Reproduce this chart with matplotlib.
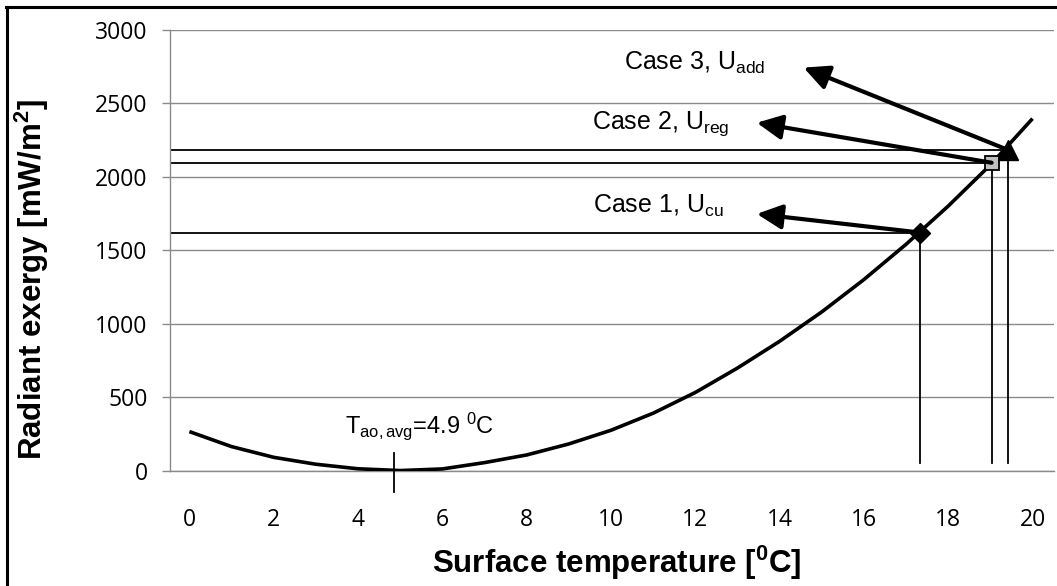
import matplotlib
matplotlib.use('Agg')
import matplotlib.pyplot as plt
from matplotlib.lines import Line2D

plt.rcParams['mathtext.fontset'] = 'custom'
plt.rcParams['mathtext.rm'] = 'Liberation Sans'
plt.rcParams['mathtext.it'] = 'Liberation Sans'
plt.rcParams['mathtext.bf'] = 'Liberation Sans:bold'
plt.rcParams['font.family'] = ['Liberation Sans', 'DejaVu Sans']

# ---- data ----
temperature = list(range(21))
exergy = [266, 164, 91, 44, 13, 1, 12, 55, 107, 182, 275, 391, 532, 698,
          880, 1080, 1300, 1540, 1800, 2080, 2395]
x_ticks = list(range(0, 21, 2))
y_ticks = [0, 500, 1000, 1500, 2000, 2500, 3000]

case_labels = [r'Case 1, U$_\mathrm{cu}$', r'Case 2, U$_\mathrm{reg}$', r'Case 3, U$_\mathrm{add}$']
case_temp = [17.33, 19.03, 19.42]
case_exergy = [1620, 2095, 2182]
case_text_pos = [(9.57, 1754), (9.55, 2326), (10.30, 2725)]
case_arrow_tip = [(13.46, 1747), (13.46, 2367), (14.57, 2742)]
t_avg = 4.85
t_avg_label = r'T$_\mathrm{ao,avg}$=4.9 $^\mathrm{0}$C'

W, H = 1057, 586
fig = plt.figure(figsize=(W / 100, H / 100), dpi=100)
ax = fig.add_axes([170 / W, 1 - 470.7 / H, (1054 - 170) / W, (470.7 - 29.7) / H])

grid_c = '#8a8a8a'
ax.set_xlim(-0.46, 20.51)
ax.set_ylim(0, 3000)
ax.set_yticks(y_ticks)
ax.set_xticks(x_ticks)
ax.grid(axis='y', color=grid_c, lw=1.0)
ax.set_axisbelow(True)
for s in ['top', 'right']:
    ax.spines[s].set_visible(False)
ax.spines['left'].set_color(grid_c)
ax.spines['bottom'].set_color(grid_c)
ax.spines['left'].set_linewidth(1.0)
ax.spines['bottom'].set_linewidth(1.0)
ax.tick_params(axis='y', length=6, color=grid_c, width=1.0, pad=10)
ax.tick_params(axis='x', length=0, pad=27)
for lab in ax.get_xticklabels() + ax.get_yticklabels():
    lab.set_fontfamily('Open Sans')
    lab.set_fontsize(16.5)

# main curve
ax.plot(temperature, exergy, color='black', lw=2.6, solid_capstyle='butt', zorder=3)

# drop lines for cases
x0 = ax.get_xlim()[0]
for t, v in zip(case_temp, case_exergy):
    ax.plot([x0, t], [v, v], color='black', lw=1.3, zorder=2)
    ax.plot([t, t], [50, v], color='black', lw=1.3, zorder=2)

# markers
ax.plot(case_temp[0], case_exergy[0], marker='D', ms=10, color='black', zorder=5)
ax.plot(case_temp[1], case_exergy[1], marker='s', ms=10, mfc='#c0c0c0', mec='black', mew=1.3, zorder=5)
ax.plot(case_temp[2], case_exergy[2], marker='^', ms=14, color='black', zorder=5)

# arrows and texts
for lab, (tx, ty), (hx, hy), t, v in zip(case_labels, case_text_pos, case_arrow_tip, case_temp, case_exergy):
    ax.text(tx, ty, lab, fontsize=18, ha='left', va='baseline')
    ax.annotate('', xy=(hx, hy), xytext=(t, v),
                arrowprops=dict(arrowstyle='-|>,head_length=0.45,head_width=0.22', lw=3.0, color='black',
                                mutation_scale=34, shrinkA=0, shrinkB=0),
                zorder=6)

# average temperature marker
ax.plot([t_avg, t_avg], [-145, 121], color='black', lw=1.3, clip_on=False, zorder=4)
ax.text(3.68, 254, t_avg_label, fontsize=17, ha='left', va='baseline')

# axis labels
fig.text(32 / W, 1 - 280 / H, r'Radiant exergy [mW/m$^\mathbf{2}$]', rotation=90,
         fontsize=22.5, fontweight='bold', ha='center', va='center')
fig.text(617 / W, 1 - 563 / H, r'Surface temperature [$^\mathbf{0}$C]',
         fontsize=22.5, fontweight='bold', ha='center', va='center')

# figure border (left and top)
fig.add_artist(Line2D([7 / W, 7 / W], [0, 1 - 7 / H], transform=fig.transFigure, color='black', lw=2.2))
fig.add_artist(Line2D([7 / W - 0.001, 1], [1 - 7 / H, 1 - 7 / H], transform=fig.transFigure, color='black', lw=2.2))

fig.savefig('out.png', dpi=100)
